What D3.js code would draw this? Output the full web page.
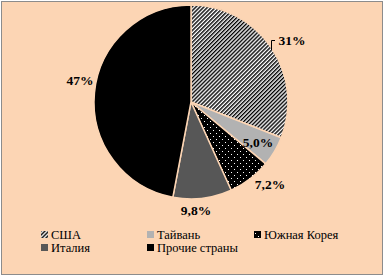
<!DOCTYPE html>
<html>
<head>
<meta charset="utf-8">
<script src="https://cdn.jsdelivr.net/npm/d3@7"></script>
<style>
  body { margin: 0; background: #fff; }
  text { font-family: "Liberation Serif", "Times New Roman", serif; }
</style>
</head>
<body>
<script>
const names = ["США", "Тайвань", "Южная Корея", "Италия", "Прочие страны"];
const values = [31, 5.0, 7.2, 9.8, 47];
const labels = ["31%", "5,0%", "7,2%", "9,8%", "47%"];

const W = 387, H = 279;
const svg = d3.select("body").append("svg")
    .attr("width", W)
    .attr("height", H);

// patterns for the two textured slices
const defs = svg.append("defs");
const hatch = defs.append("pattern")
    .attr("id", "hatch")
    .attr("patternUnits", "userSpaceOnUse")
    .attr("width", 2.8).attr("height", 2.8)
    .attr("patternTransform", "rotate(45)");
hatch.append("rect").attr("width", 2.8).attr("height", 2.8).attr("fill", "#fff");
hatch.append("rect").attr("width", 1.4).attr("height", 2.8).attr("fill", "#000");

const dots = defs.append("pattern")
    .attr("id", "dots")
    .attr("patternUnits", "userSpaceOnUse")
    .attr("width", 6).attr("height", 6);
dots.append("rect").attr("width", 6).attr("height", 6).attr("fill", "#000");
dots.append("rect").attr("x", 1).attr("y", 1).attr("width", 1).attr("height", 1).attr("fill", "#fff");
dots.append("rect").attr("x", 4).attr("y", 4).attr("width", 1).attr("height", 1).attr("fill", "#fff");

const fills = ["url(#hatch)", "#b2b2b2", "url(#dots)", "#575757", "#000"];

svg.append("rect")
    .attr("x", 1.5).attr("y", 1.5)
    .attr("width", 381).attr("height", 273)
    .attr("fill", "#fcd5b4")
    .attr("stroke", "#8c8c8c")
    .attr("stroke-width", 1);

const cx = 191, cy = 102, r = 97;
const pie = d3.pie().sort(null).value(d => d);
const arc = d3.arc().innerRadius(0).outerRadius(r);
const arcs = pie(values);

const g = svg.append("g").attr("transform", `translate(${cx},${cy})`);
g.selectAll("path")
    .data(arcs)
    .join("path")
    .attr("d", arc)
    .attr("fill", (d, i) => fills[i])
    .attr("stroke", "#fcd5b4")
    .attr("stroke-width", 1.5);

// data labels
const labelPos = [[292, 45], [258, 147], [270, 189], [196, 215], [80, 85]];
svg.selectAll("text.lbl")
    .data(labels)
    .join("text")
    .attr("class", "lbl")
    .attr("x", (d, i) => labelPos[i][0])
    .attr("y", (d, i) => labelPos[i][1])
    .attr("text-anchor", "middle")
    .style("font-weight", "bold")
    .style("font-size", "13.5px")
    .text(d => d);

// leader for 31%
svg.append("path")
    .attr("d", "M275,40.5 H271.5 V50")
    .attr("fill", "none")
    .attr("stroke", "#000")
    .attr("stroke-width", 1);

// legend
const legPos = [[44, 235], [150, 235], [257, 235], [44, 248], [150, 248]];
const leg = svg.selectAll("g.leg")
    .data(names)
    .join("g")
    .attr("class", "leg")
    .attr("transform", (d, i) => `translate(${legPos[i][0]},${legPos[i][1]})`);
leg.append("rect")
    .attr("x", -3).attr("y", -4)
    .attr("width", 7).attr("height", 7)
    .attr("fill", (d, i) => fills[i]);
leg.append("text")
    .attr("x", 7)
    .attr("y", 4)
    .style("font-size", "12.5px")
    .text(d => d);
</script>
</body>
</html>
